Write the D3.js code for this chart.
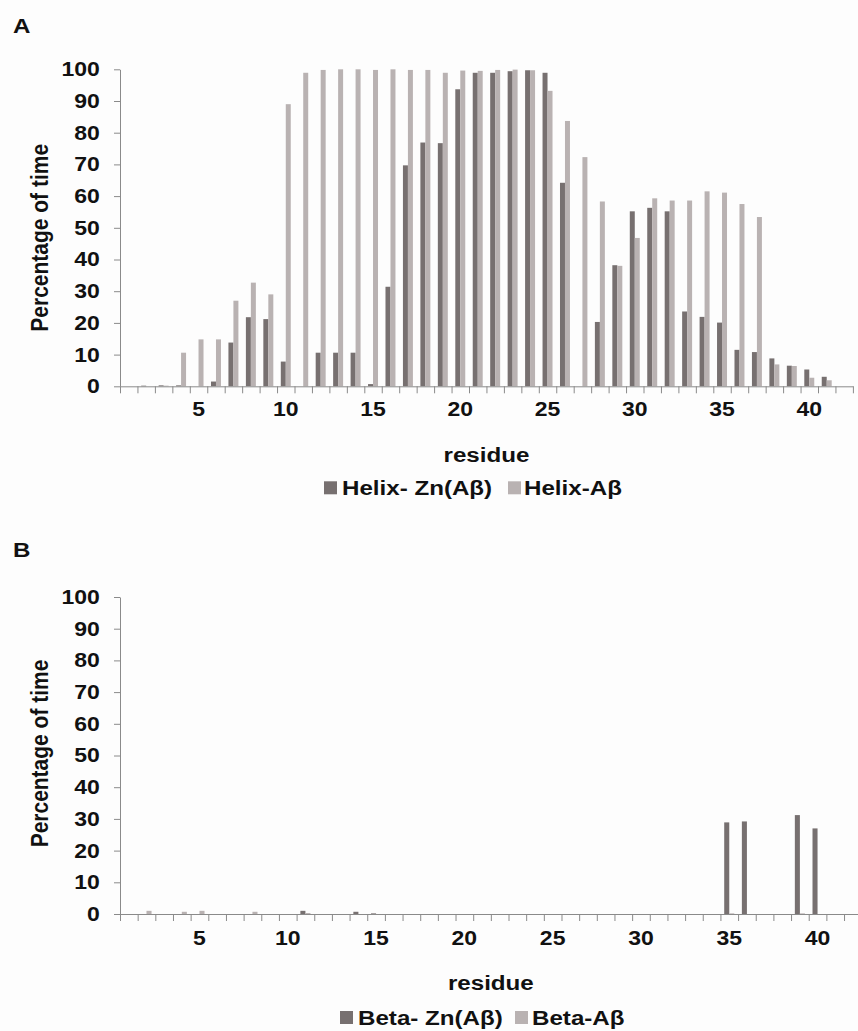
<!DOCTYPE html>
<html>
<head>
<meta charset="utf-8">
<script src="https://cdn.jsdelivr.net/npm/d3@7"></script>
<style>
  body { margin: 0; background: #fdfdfd; }
  svg { display: block; font-family: "Liberation Sans", Arial, sans-serif; }
  .axis path, .axis line { stroke: #8a8a8a; stroke-width: 1px; }
</style>
</head>
<body>
<script>
// residues on the x axis
var residues = [1, 2, 3, 4, 5, 6, 7, 8, 9, 10, 11, 12, 13, 14, 15, 16, 17, 18, 19, 20, 21,
    22, 23, 24, 25, 26, 27, 28, 29, 30, 31, 32, 33, 34, 35, 36, 37, 38, 39, 40, 41, 42];
var xTickLabels = [5, 10, 15, 20, 25, 30, 35, 40];
var yTickLabels = [0, 10, 20, 30, 40, 50, 60, 70, 80, 90, 100];

// panel A - helix
var helixZn = [0, 0.2, 0.3, 0.3, 0, 1.5, 13.8, 21.8, 21.2, 7.8, 0, 10.6, 10.6, 10.6, 0.7, 31.4,
    69.7, 76.9, 76.7, 93.7, 98.9, 98.9, 99.4, 99.7, 98.9, 64.2, 0, 20.3, 38.2, 55.2, 56.3, 55.2,
    23.6, 21.9, 20.1, 11.5, 10.8, 8.8, 6.5, 5.3, 3.0, 0];
var helixAb = [0, 0, 0.2, 10.6, 14.8, 14.8, 27.0, 32.7, 29.0, 89.0, 98.9, 99.8, 100, 100, 99.8, 100,
    99.8, 99.8, 98.9, 99.6, 99.5, 99.8, 99.9, 99.7, 93.2, 83.7, 72.3, 58.3, 38.0, 46.8, 59.3, 58.6,
    58.6, 61.5, 61.1, 57.5, 53.4, 6.9, 6.4, 2.7, 1.9, 0];

// panel B - beta
var betaZn = [0, 0, 0, 0, 0, 0, 0, 0, 0, 0, 1.0, 0, 0, 0.7, 0.2, 0, 0, 0, 0, 0, 0,
    0, 0, 0, 0, 0, 0, 0, 0, 0, 0, 0, 0, 0, 28.9, 29.2, 0, 0, 31.2, 27.0, 0, 0];
var betaAb = [0, 1.0, 0, 0.7, 1.0, 0, 0, 0.7, 0, 0, 0.3, 0, 0, 0, 0, 0, 0, 0, 0, 0, 0,
    0, 0, 0, 0, 0, 0, 0, 0, 0, 0, 0, 0, 0, 0.2, 0, 0, 0, 0.2, 0, 0, 0];

var darkColor = "#777070";
var lightColor = "#b9b2b2";
var stretch = "scale(1.15,1)";

var width = 858;
var height = 1031;

var svg = d3.select("body")
    .append("svg")
    .attr("width", width)
    .attr("height", height);

svg.append("rect")
    .attr("width", width)
    .attr("height", height)
    .attr("fill", "#fdfdfd");

function panel(opts) {
    var g = svg.append("g");

    var x = d3.scaleBand()
        .domain(residues)
        .range([opts.left, opts.right]);

    // excel style: 150% gap between groups
    var xSub = d3.scaleBand()
        .domain([0, 1])
        .range([0, x.bandwidth()])
        .paddingOuter(0.75);

    var xEdge = d3.scaleLinear()
        .domain([0, residues.length])
        .range([opts.left, opts.right]);

    var y = d3.scaleLinear()
        .domain([0, 100])
        .range([opts.bottom, opts.top]);

    var rows = residues.map(function(r, i) {
        return {r: r, vals: [opts.series[0][i], opts.series[1][i]]};
    });

    var groups = g.selectAll(".grp")
        .data(rows)
        .enter().append("g")
        .attr("transform", function(d) { return "translate(" + x(d.r) + ",0)"; });

    groups.selectAll("rect")
        .data(function(d) { return d.vals; })
        .enter().append("rect")
        .attr("x", function(d, i) { return xSub(i); })
        .attr("width", xSub.bandwidth())
        .attr("y", function(d) { return y(d); })
        .attr("height", function(d) { return y(0) - y(d); })
        .attr("fill", function(d, i) { return i == 0 ? darkColor : lightColor; });

    // y axis
    var yAxis = g.append("g")
        .attr("class", "axis")
        .attr("transform", "translate(" + opts.left + ",0)")
        .call(d3.axisLeft(y).tickValues(yTickLabels).tickSize(6).tickSizeOuter(0));
    yAxis.selectAll("text")
        .attr("x", -17.5)
        .attr("transform", stretch)
        .attr("fill", "#111")
        .attr("font-size", "20px")
        .attr("font-weight", "bold");

    // x axis: tick marks between categories
    g.append("g")
        .attr("class", "axis")
        .attr("transform", "translate(0," + opts.bottom + ")")
        .call(d3.axisBottom(xEdge)
            .tickValues(d3.range(0, residues.length + 1))
            .tickFormat("")
            .tickSize(7)
            .tickSizeOuter(0));

    var xLab = g.append("g")
        .attr("transform", "translate(0," + opts.bottom + ")")
        .call(d3.axisBottom(x).tickValues(xTickLabels).tickSize(0));
    xLab.select(".domain").remove();
    xLab.selectAll("text")
        .attr("y", opts.labelGap)
        .attr("transform", stretch)
        .attr("fill", "#111")
        .attr("font-size", "20px")
        .attr("font-weight", "bold");

    var mid = (opts.left + opts.right) / 2;

    function label(txt, tx, ty, anchor, rot) {
        g.append("text")
            .attr("transform", "translate(" + tx + "," + ty + ") " + stretch + (rot ? " rotate(-90)" : ""))
            .attr("text-anchor", anchor)
            .attr("fill", "#111")
            .attr("font-size", "21px")
            .attr("font-weight", "bold")
            .text(txt);
    }

    label(opts.letter, 13, opts.letterY, "start");
    label("Percentage of time", 48, (opts.top + opts.bottom) / 2 + opts.titleShift, "middle", true);
    label("residue", mid, opts.bottom + opts.resY, "middle");

    // legend
    var lg = opts.legend;
    lg.forEach(function(item, i) {
        g.append("rect")
            .attr("x", item.sx)
            .attr("y", opts.bottom + opts.legY - 14)
            .attr("width", 13)
            .attr("height", 13)
            .attr("fill", i == 0 ? darkColor : lightColor);
        label(item.name, item.tx, opts.bottom + opts.legY, "start");
    });
}

panel({
    letter: "A", letterY: 33,
    left: 120, right: 852.9, top: 69.3, bottom: 386.3,
    series: [helixZn, helixAb],
    labelGap: 16, resY: 76, legY: 109, titleShift: 10,
    legend: [{name: "Helix- Zn(A\u03b2)", sx: 324, tx: 342},
             {name: "Helix-A\u03b2", sx: 508, tx: 524}]
});

panel({
    letter: "B", letterY: 557,
    left: 120, right: 861.7, top: 597, bottom: 914,
    series: [betaZn, betaAb],
    labelGap: 17, resY: 76, legY: 111, titleShift: -2,
    legend: [{name: "Beta- Zn(A\u03b2)", sx: 340, tx: 358},
             {name: "Beta-A\u03b2", sx: 515, tx: 532}]
});
</script>
</body>
</html>
